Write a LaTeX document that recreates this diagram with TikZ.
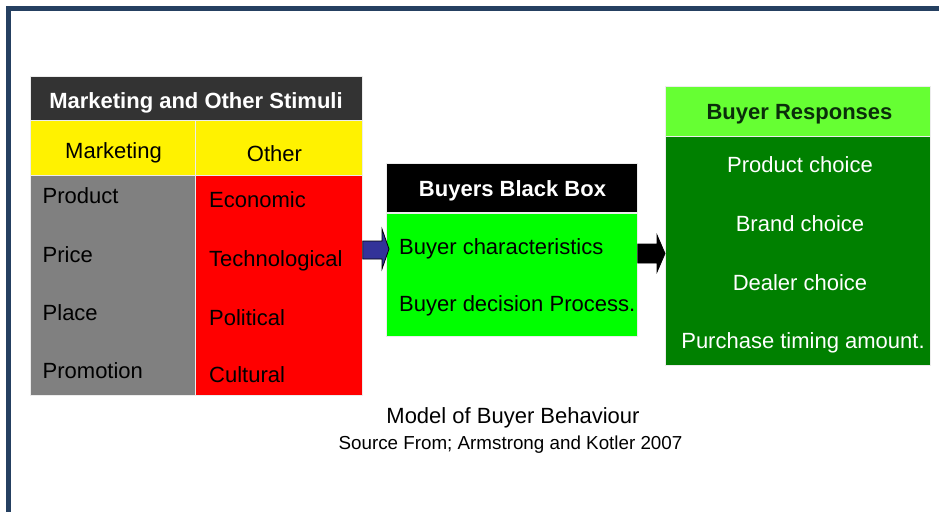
\documentclass[tikz,border=0pt]{standalone}
\usepackage{fontspec}
\setmainfont{Liberation Sans}
\definecolor{framec}{HTML}{254061}
\definecolor{hdrgray}{HTML}{333333}
\definecolor{cellgray}{HTML}{808080}
\definecolor{ltgreen}{HTML}{00FF00}
\definecolor{hdrgreen}{HTML}{66FF33}
\definecolor{dkgreen}{HTML}{008000}
\definecolor{arrowblue}{HTML}{333399}
\definecolor{rtext}{HTML}{0A2E0A}
\tikzset{
  cell/.style={draw=white!85!gray, line width=0.8pt, anchor=north west, inner sep=0pt, minimum width=#1},
  txt/.style={inner sep=0pt, font=\fontsize{22}{26}\selectfont},
  btxt/.style={inner sep=0pt, font=\fontsize{22}{26}\selectfont\bfseries},
  blockarrow/.style={line width=0.8pt, line join=miter}
}
\begin{document}
\begin{tikzpicture}[x=1pt, y=-1pt]
\useasboundingbox (0,0) rectangle (939,511);
% frame
\draw[framec, line width=5pt] (8.5,520) -- (8.5,9) -- (950,9);
% left block
\node[cell=332pt, fill=hdrgray, minimum height=44pt] (stim) at (30,76) {};
\node[cell=165pt, fill=yellow, minimum height=55pt] (mkt) at (30,120) {};
\node[cell=167pt, fill=yellow, minimum height=55pt] (oth) at (195,120) {};
\node[cell=165pt, fill=cellgray, minimum height=220pt] (mktl) at (30,175) {};
\node[cell=167pt, fill=red, minimum height=220pt] (othl) at (195,175) {};
\node[btxt, text=white, anchor=base] (stimt) at (196,108) {Marketing and Other Stimuli};
\node[txt, anchor=base] (mktt) at (113.5,158) {Marketing};
\node[txt, anchor=base] (otht) at (274.5,161) {Other};
\node[txt, anchor=base west] (m1) at (42.5,203) {Product};
\node[txt, anchor=base west] (m2) at (42.5,262) {Price};
\node[txt, anchor=base west] (m3) at (42.5,320) {Place};
\node[txt, anchor=base west] (m4) at (42.5,378) {Promotion};
\node[txt, anchor=base west] (o1) at (209,207) {Economic};
\node[txt, anchor=base west] (o2) at (209,266) {Technological};
\node[txt, anchor=base west] (o3) at (209,325) {Political};
\node[txt, anchor=base west] (o4) at (209,382) {Cultural};
% black box
\node[cell=251pt, fill=black, minimum height=49pt] (bbh) at (386,163) {};
\node[cell=251pt, fill=ltgreen, minimum height=123pt] (bb) at (386,212.5) {};
\node[btxt, text=white, anchor=base] (bbht) at (512.5,196) {Buyers Black Box};
\node[txt, anchor=base west] (b1) at (399,254) {Buyer characteristics};
\node[txt, anchor=base west] (b2) at (399,311.5) {Buyer decision Process.};
% responses
\node[cell=265pt, fill=hdrgreen, minimum height=50pt] (rh) at (665,86) {};
\node[cell=265pt, fill=dkgreen, minimum height=229pt] (rb) at (665,136) {};
\node[btxt, text=rtext, anchor=base] (rht) at (799.5,119) {Buyer Responses};
\node[txt, text=white, anchor=base] (r1) at (800,172.5) {Product choice};
\node[txt, text=white, anchor=base] (r2) at (800,231.5) {Brand choice};
\node[txt, text=white, anchor=base] (r3) at (800,290) {Dealer choice};
\node[txt, text=white, anchor=base] (r4) at (803,348) {Purchase timing amount.};
% arrows
\draw[blockarrow, draw=black, fill=arrowblue]
  (othl.east |- 0,241) -- (382,241) -- (382,229) -- ([xshift=3pt]bb.west |- 0,249)
  -- (382,269) -- (382,259) -- (othl.east |- 0,259) -- cycle;
\draw[blockarrow, draw=black, fill=black]
  (bb.east |- 0,244) -- (657,244) -- (657,235) -- (rb.west |- 0,253.5)
  -- (657,272) -- (657,263) -- (bb.east |- 0,263) -- cycle;
% caption
\node[txt, anchor=base] (cap) at (513,423) {Model of Buyer Behaviour};
\node[inner sep=0pt, font=\fontsize{18.8}{22}\selectfont, anchor=base] (src) at (510.5,449) {Source From; Armstrong and Kotler 2007};
\end{tikzpicture}
\end{document}
